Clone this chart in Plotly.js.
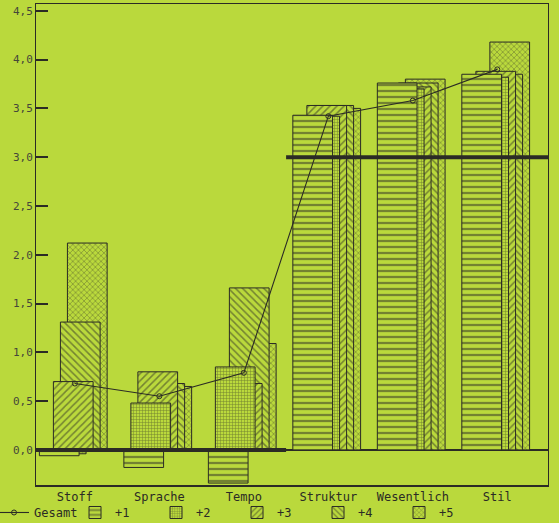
<!DOCTYPE html>
<html>
<head>
<meta charset="utf-8">
<script src="https://cdn.plot.ly/plotly-3.0.1.min.js"></script>
<style>html,body{margin:0;padding:0;background:#bad93c;}</style>
</head>
<body>
<div id="chart" style="width:559px;height:523px;"></div>
<script>
// ---- data ----
const categories = ["Stoff", "Sprache", "Tempo", "Struktur", "Wesentlich", "Stil"];
const seriesNames = ["+1", "+2", "+3", "+4", "+5"];
const plus1 = [-0.06, -0.18, -0.34, 3.43, 3.76, 3.85];
const plus2 = [-0.04, 0.48, 0.85, 3.42, 3.70, 3.82];
const plus3 = [0.70, 0.80, 0.68, 3.53, 3.72, 3.88];
const plus4 = [1.31, 0.68, 1.66, 3.53, 3.76, 3.85];
const plus5 = [2.12, 0.65, 1.09, 3.50, 3.80, 4.18];
const gesamt = [0.68, 0.55, 0.79, 3.42, 3.58, 3.90];
const refLevel = [0, 0, 0, 3.0, 3.0, 3.0];
const yTicks = [0, 0.5, 1, 1.5, 2, 2.5, 3, 3.5, 4, 4.5];

// ---- styling ----
const BG = "#bad93c";
const INK = "#2b2b25";
const FONT = "DejaVu Sans Mono, Liberation Mono, monospace";
const patterns = [
  {shape: "-", size: 6, solidity: 0.38},
  {shape: "+", size: 3, solidity: 0.3},
  {shape: "/", size: 5, solidity: 0.3},
  {shape: "\\", size: 5, solidity: 0.3},
  {shape: "x", size: 4, solidity: 0.28}
];
const allSeries = [plus1, plus2, plus3, plus4, plus5];
const xIdx = categories.map((_, i) => i);
const barWidth = 0.47;
const barStep = 0.083;
const groupStart = -0.42;

const traces = [];
// back-most bar first (+5), front-most last (+1)
for (let k = allSeries.length - 1; k >= 0; k--) {
  traces.push({
    type: "bar",
    name: seriesNames[k],
    x: xIdx,
    y: allSeries[k],
    width: barWidth,
    offset: groupStart + k * barStep,
    marker: {
      color: BG,
      line: {color: INK, width: 1},
      pattern: Object.assign({fillmode: "overlay", fgcolor: INK, bgcolor: BG}, patterns[k])
    },
    hoverinfo: "skip"
  });
}

// thick reference step line (segments of equal level, broken where level changes)
const refX = [], refY = [];
const xMin = -0.46, xMax = 5.60;
for (let i = 0; i < refLevel.length; i++) {
  const left = i === 0 ? xMin : i - 0.5;
  const right = i === refLevel.length - 1 ? xMax : i + 0.5;
  if (i > 0 && refLevel[i] !== refLevel[i - 1]) { refX.push(null); refY.push(null); }
  refX.push(left, right);
  refY.push(refLevel[i], refLevel[i]);
}
traces.push({
  type: "scatter", mode: "lines", x: refX, y: refY,
  line: {color: INK, width: 4}, showlegend: false, hoverinfo: "skip", connectgaps: false
});

traces.push({
  type: "scatter", mode: "lines+markers", name: "Gesamt",
  x: xIdx, y: gesamt,
  line: {color: INK, width: 1.1},
  marker: {symbol: "circle-open", size: 5, color: INK, line: {width: 1}},
  hoverinfo: "skip"
});

const layout = {
  width: 559, height: 523,
  paper_bgcolor: BG, plot_bgcolor: BG,
  margin: {l: 36, r: 11, t: 4, b: 38, autoexpand: false},
  separators: ",.",
  barmode: "overlay",
  font: {family: FONT, size: 11, color: INK},
  showlegend: true,
  legend: {
    orientation: "h", traceorder: "reversed",
    x: -0.082, xanchor: "left", y: -0.027, yanchor: "top",
    entrywidth: 36, entrywidthmode: "pixels",
    font: {family: FONT, size: 12, color: INK},
    bgcolor: "rgba(0,0,0,0)", itemwidth: 30
  },
  xaxis: {
    range: [xMin, xMax],
    tickmode: "array", tickvals: xIdx, ticktext: categories,
    ticks: "", showgrid: false, zeroline: false,
    showline: true, mirror: true, linecolor: INK, linewidth: 1.5,
    tickfont: {family: FONT, size: 12, color: INK}
  },
  yaxis: {
    range: [-0.36, 4.57],
    tickmode: "array", tickvals: yTicks, tickformat: ".1f",
    ticks: "inside", ticklen: 12, tickwidth: 2, tickcolor: INK,
    showgrid: false,
    zeroline: true, zerolinecolor: INK, zerolinewidth: 1.5,
    showline: true, mirror: true, linecolor: INK, linewidth: 1,
    tickfont: {family: FONT, size: 11, color: "#45473a"}
  }
};

Plotly.newPlot("chart", traces, layout, {displayModeBar: false, staticPlot: true});
</script>
</body>
</html>
